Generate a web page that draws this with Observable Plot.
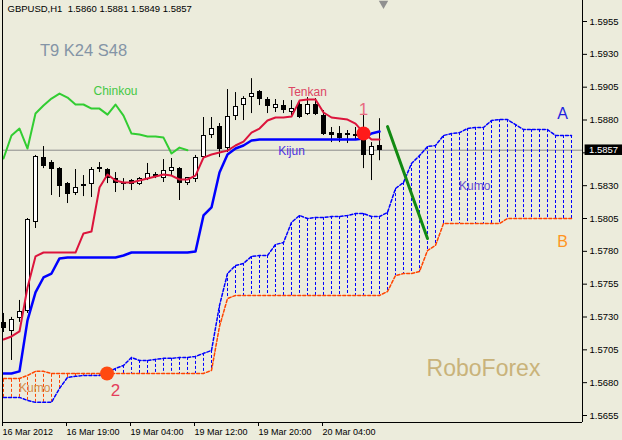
<!DOCTYPE html>
<html>
<head>
<meta charset="utf-8">
<script src="https://cdn.jsdelivr.net/npm/d3@7"></script>
<script src="https://cdn.jsdelivr.net/npm/@observablehq/plot@0.6"></script>
<style>
html,body{margin:0;padding:0;background:#ECECDC;}
#chart{width:622px;height:440px;overflow:hidden;}
</style>
</head>
<body>
<div id="chart"></div>
<script>
// ---- Candles (GBPUSD H1), bar index 0..47 ----
const open  = [1.57251,1.57190,1.57289,1.57342,1.58020,1.58507,1.58469,1.58430,1.58309,1.58248,
               1.58301,1.58309,1.58430,1.58423,1.58354,1.58309,1.58339,1.58316,1.58354,1.58377,
               1.58362,1.58415,1.58430,1.58324,1.58354,1.58522,1.58689,1.58750,1.58590,1.58834,
               1.58918,1.58978,1.59016,1.58956,1.58895,1.58910,1.58864,1.58918,1.58849,1.58918,
               1.58834,1.58704,1.58697,1.58689,1.58682,1.58682,1.58530,1.58600];
const high  = [1.57327,1.57297,1.57426,1.58050,1.58530,1.58598,1.58491,1.58438,1.58324,1.58423,
               1.58377,1.58438,1.58476,1.58430,1.58400,1.58354,1.58347,1.58362,1.58469,1.58400,
               1.58499,1.58507,1.58438,1.58362,1.58530,1.58819,1.58819,1.58773,1.59032,1.59009,
               1.58978,1.59115,1.59024,1.58971,1.58956,1.58948,1.58948,1.58948,1.58971,1.58963,
               1.58872,1.58743,1.58750,1.58720,1.58743,1.58834,1.58628,1.58810];
const low   = [1.57182,1.56969,1.57259,1.57327,1.57974,1.58430,1.58225,1.58210,1.58164,1.58225,
               1.58217,1.58210,1.58400,1.58316,1.58248,1.58263,1.58263,1.58301,1.58339,1.58354,
               1.58324,1.58377,1.58187,1.58301,1.58324,1.58507,1.58659,1.58514,1.58552,1.58796,
               1.58796,1.58849,1.58910,1.58849,1.58857,1.58849,1.58834,1.58811,1.58834,1.58834,
               1.58682,1.58628,1.58628,1.58621,1.58644,1.58430,1.58339,1.58490];
const close = [1.57213,1.57274,1.57335,1.58035,1.58522,1.58453,1.58430,1.58294,1.58240,1.58286,
               1.58302,1.58423,1.58432,1.58362,1.58324,1.58324,1.58309,1.58354,1.58392,1.58378,
               1.58408,1.58438,1.58324,1.58362,1.58507,1.58682,1.58735,1.58583,1.58826,1.58902,
               1.58963,1.59001,1.58963,1.58910,1.58918,1.58880,1.58887,1.58826,1.58918,1.58849,
               1.58697,1.58689,1.58666,1.58690,1.58689,1.58530,1.58598,1.58570];

// ---- Ichimoku lines ----
const tenkan = [1.57129,1.57152,1.57190,1.57525,1.57761,1.57791,1.57791,1.57791,1.57791,1.57791,
                1.57936,1.57951,1.58286,1.58385,1.58339,1.58324,1.58324,1.58339,1.58354,1.58370,
                1.58385,1.58377,1.58347,1.58347,1.58377,1.58514,1.58537,1.58552,1.58567,1.58606,
                1.58636,1.58704,1.58735,1.58796,1.58819,1.58819,1.58826,1.58948,1.58956,1.58956,
                1.58857,1.58819,1.58811,1.58803,1.58773,1.58704,1.58651,1.58651];
const kijun  = [1.56870,1.56870,1.56886,1.57274,1.57487,1.57601,1.57631,1.57746,1.57753,1.57753,
                1.57753,1.57753,1.57753,1.57753,1.57753,1.57768,1.57791,1.57791,1.57791,1.57791,
                1.57791,1.57791,1.57791,1.57791,1.57799,1.58073,1.58134,1.58400,1.58537,1.58583,
                1.58606,1.58644,1.58651,1.58651,1.58651,1.58651,1.58651,1.58651,1.58651,1.58651,
                1.58651,1.58651,1.58651,1.58651,1.58651,1.58659,1.58697,1.58712];
const chinkou = [1.58507,1.58682,1.58735,1.58583,1.58849,1.58910,1.58963,1.59001,1.58971,1.58918,
                 1.58918,1.58887,1.58887,1.58841,1.58918,1.58834,1.58697,1.58689,1.58674,1.58674,
                 1.58666,1.58545,1.58590,1.58570];
const senkouA = [1.56688,1.56688,1.56688,1.56665,1.56650,1.56650,1.56650,1.56756,1.56840,1.56848,
                 1.56855,1.56855,1.56855,1.56878,1.56908,1.56931,1.56992,1.56969,1.56969,1.56977,
                 1.56985,1.56985,1.56992,1.56992,1.57000,1.57023,1.57045,1.57388,1.57631,1.57692,
                 1.57708,1.57761,1.57768,1.57768,1.57852,1.57867,1.58020,1.58073,1.58050,1.58058,
                 1.58058,1.58065,1.58065,1.58073,1.58088,1.58088,1.58065,1.58065,1.58096,1.58278,
                 1.58324,1.58469,1.58529,1.58598,1.58606,1.58682,1.58697,1.58704,1.58735,1.58743,
                 1.58743,1.58796,1.58803,1.58803,1.58765,1.58727,1.58727,1.58727,1.58727,1.58682,
                 1.58682,1.58682];
const senkouB = [1.56832,1.56832,1.56832,1.56855,1.56886,1.56886,1.56870,1.56870,1.56870,1.56870,
                 1.56870,1.56870,1.56870,1.56870,1.56870,1.56870,1.56870,1.56870,1.56870,1.56870,
                 1.56870,1.56870,1.56870,1.56870,1.56870,1.56870,1.56893,1.57228,1.57441,1.57464,
                 1.57464,1.57464,1.57464,1.57464,1.57464,1.57464,1.57464,1.57464,1.57464,1.57464,
                 1.57464,1.57464,1.57464,1.57464,1.57464,1.57464,1.57464,1.57464,1.57494,1.57616,
                 1.57631,1.57631,1.57647,1.57806,1.57845,1.58012,1.58012,1.58012,1.58012,1.58012,
                 1.58012,1.58012,1.58012,1.58050,1.58050,1.58050,1.58050,1.58050,1.58050,1.58050,
                 1.58050,1.58050];

// ---- Axes ----
const yTicks = [1.5655,1.5680,1.5705,1.5730,1.5755,1.5780,1.5805,1.5830,1.5855,1.5880,1.5905,1.5930,1.5955];
const xTickIdx = [0,8,16,24,32,40];
const xTickLabels = ["16 Mar 2012","16 Mar 19:00","19 Mar 04:00","19 Mar 12:00","19 Mar 20:00","20 Mar 04:00"];
const titleText = "GBPUSD,H1\u00A0 1.5860 1.5881 1.5849 1.5857";

// ---- Annotations (bar index / price) ----
const labelText  = ["T9 K24 S48","Chinkou","Tenkan","Kijun","Kumo","A","B","Kumo","RoboForex","1","2"];
const labelX     = [10.0, 14.0, 38.0, 36.0, 58.9, 69.9, 69.9, 3.9, 60.0, 45.0, 14.0];
const labelY     = [1.59329,1.59020,1.59009,1.58560,1.58294,1.58849,1.57875,1.56756,1.56907,1.58880,1.56741];
const labelColor = ["#8494A6","#44C844","#DC4664","#4B30E0","#6650D0","#1F1FE0","#FF9422","#D48C4C","#C9B37A","#E86A80","#E43C5A"];
const labelSize  = [16.5, 12, 12, 12, 12, 16, 16, 12, 23, 17, 17];
const markerX = [45.0, 12.94];
const markerY = [1.58697, 1.56870];
const markerColor = ["#FF1A1A", "#FF4A10"];
const trendX = [48, 53];
const trendY = [1.58750, 1.57898];

const xDomain = [-0.125, 72.375];
const yDomain = [1.564967, 1.597100];
const blueC = "#0000FF", orangeC = "#FF4500";

const bars = open.map((o, i) => ({i, o, h: high[i], l: low[i], c: close[i], t: tenkan[i], k: kijun[i]}));
const chk = chinkou.map((v, i) => ({i, v}));
const cloud = senkouA.map((a, j) => ({j, a, b: senkouB[j]}));
const labels = labelText.map((t, k) => ({t, x: labelX[k], y: labelY[k], c: labelColor[k], s: labelSize[k]}));
const markers = markerX.map((x, k) => ({x, y: markerY[k], c: markerColor[k]}));
const trend = trendX.map((x, k) => ({x, y: trendY[k]}));
const last = close[close.length - 1];
// tick label hidden behind the current-price box (as in the reference)
const hiddenTick = yTicks.reduce((best, t) => Math.abs(t - last) < Math.abs(best - last) ? t : best, yTicks[0]);

const chart = Plot.plot({
  width: 622,
  height: 440,
  marginLeft: 2,
  marginRight: 40,
  marginTop: 0,
  marginBottom: 18,
  style: {background: "#ECECDC", fontFamily: "'Liberation Sans', Arial, sans-serif", fontSize: "9.5px", color: "black"},
  x: {type: "linear", domain: xDomain, axis: null},
  y: {type: "linear", domain: yDomain, axis: null},
  color: {type: "identity"},
  marks: [
    Plot.ruleY([last], {stroke: "#8C8C8C"}),
    // Kumo
    Plot.ruleX(cloud, {x: "j", y1: "a", y2: "b", stroke: d => d.a > d.b ? blueC : orangeC, strokeDasharray: "3,2"}),
    Plot.line(cloud, {x: "j", y: "b", stroke: orangeC, strokeDasharray: "3,2"}),
    Plot.line(cloud, {x: "j", y: "a", stroke: blueC, strokeDasharray: "3,2"}),
    // Candles
    Plot.ruleX(bars, {x: "i", y1: "l", y2: "h", stroke: "black"}),
    Plot.rect(bars, {x1: d => d.i - 0.25, x2: d => d.i + 0.25, y1: "o", y2: "c",
      fill: d => d.c >= d.o ? "white" : "black", stroke: "black", shapeRendering: "crispEdges"}),
    // Ichimoku lines
    Plot.line(chk, {x: "i", y: "v", stroke: "#32CD32", strokeWidth: 2}),
    Plot.line(bars, {x: "i", y: "t", stroke: "#DC143C", strokeWidth: 2}),
    Plot.line(bars, {x: "i", y: "k", stroke: blueC, strokeWidth: 2.5}),
    // Annotations
    Plot.line(trend, {x: "x", y: "y", stroke: "#128A12", strokeWidth: 3}),
    Plot.dot(markers, {x: "x", y: "y", r: 7, fill: "c", stroke: null}),
    ...labels.map(l => Plot.text([l], {x: "x", y: "y", text: "t", fill: "c", fontSize: l.s})),
    // Frame
    Plot.ruleX(xDomain, {stroke: "black"}),
    Plot.ruleY([yDomain[0]], {stroke: "black"}),
    // Axes
    Plot.axisY({anchor: "right", ticks: yTicks, tickFormat: d => d === hiddenTick ? "" : d.toFixed(4), tickSize: 4, tickPadding: 3, fontSize: 9.5, label: null}),
    Plot.axisX({anchor: "bottom", ticks: xTickIdx, tickFormat: d => xTickLabels[xTickIdx.indexOf(d)], tickSize: 4, tickPadding: 2, textAnchor: "start", dx: -1, fontSize: 9, label: null}),
    // Current price box
    Plot.rect([last], {x1: 72.7, x2: 78, y1: d => d - 0.0004, y2: d => d + 0.0004, fill: "black"}),
    Plot.text([last], {x: 72.7, y: d => d, text: d => d.toFixed(4), textAnchor: "start", dx: 4, fill: "white", fontSize: 9.5}),
    // Title and chart-shift marker
    Plot.text([titleText], {frameAnchor: "top-left", text: d => d, dx: 5, dy: 5, lineAnchor: "top", textAnchor: "start", fill: "black", fontSize: 9.5}),
    Plot.dot([47.5], {x: d => d, frameAnchor: "top", symbol: "triangle", rotate: 180, r: 3.5, dy: 3, fill: "#909090", stroke: null})
  ]
});
document.getElementById("chart").appendChild(chart);
</script>
</body>
</html>
